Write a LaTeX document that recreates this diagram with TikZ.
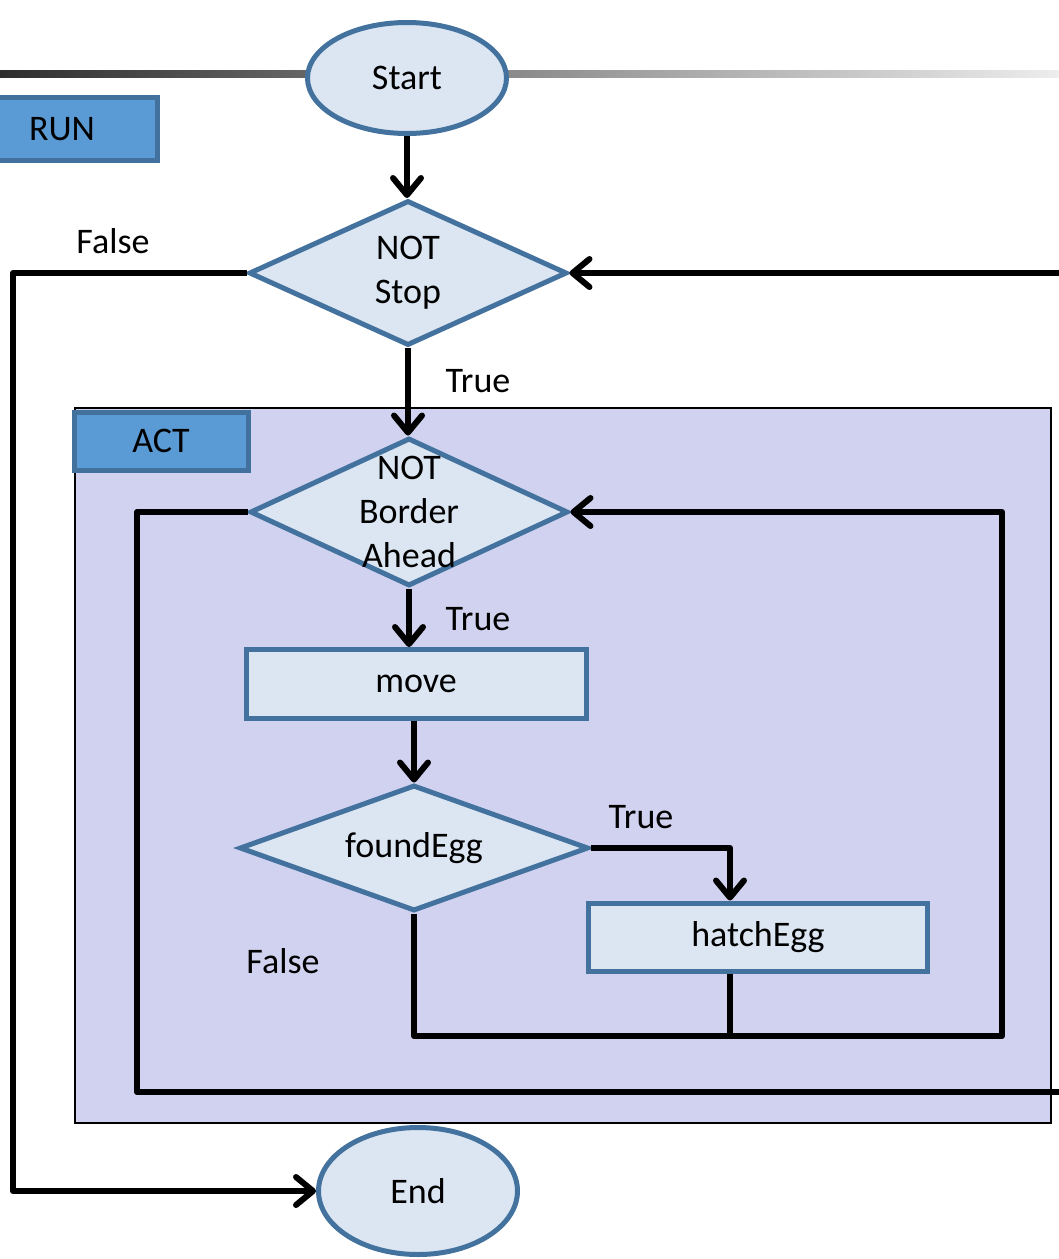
\documentclass[tikz,border=0pt]{standalone}
\usepackage{fontspec}
\setmainfont{Carlito}
\usetikzlibrary{shapes.geometric,arrows.meta}
\definecolor{shapefill}{HTML}{DCE6F2}
\definecolor{shapeline}{HTML}{43729E}
\definecolor{tagfill}{HTML}{5B9BD5}
\definecolor{tagline}{HTML}{41719C}
\definecolor{actfill}{HTML}{D0D2EF}
\begin{document}
\begin{tikzpicture}[x=1pt,y=-1pt,
  every node/.style={font=\fontsize{36}{44}\selectfont, text=black},
  terminal/.style={ellipse, draw=shapeline, fill=shapefill, line width=5pt, inner sep=0pt},
  decision/.style={diamond, draw=shapeline, fill=shapefill, line width=5pt, inner sep=0pt},
  process/.style={rectangle, draw=shapeline, fill=shapefill, line width=5pt, inner sep=0pt},
  tag/.style={rectangle, draw=tagline, fill=tagfill, line width=5pt, inner sep=0pt},
  conn/.style={draw=black, line width=6pt, line join=round},
  arr/.style={conn, -{Straight Barb[length=17pt,width=28pt,line cap=round,line join=round]}},
  lbl/.style={inner sep=0pt}
]
\useasboundingbox (0,0) rectangle (1059,1259);
\clip (0,0) rectangle (1059,1259);

% header rule with fading grey
\shade[left color=black!82, right color=black!7] (0,70) rectangle (1059,77);

% ACT region
\node[draw=black, line width=1.5pt, fill=actfill, minimum width=976pt, minimum height=715pt,
      anchor=north west, inner sep=0pt] (act) at (74,407) {};

% tags
\node[tag, minimum width=190pt, minimum height=63pt] (run) at (62,129) {RUN};
\node[tag, minimum width=174pt, minimum height=58pt] (acttag) at (161,441) {ACT};

% flow nodes
\node[terminal, minimum width=199pt, minimum height=111pt] (start) at (407,78) {Start};
\node[decision, minimum width=318pt, minimum height=145pt] (d1) at (408,273) {};
\node[align=center] at (d1) {NOT\\Stop};
\node[decision, minimum width=318pt, minimum height=148pt] (d2) at (409,512) {};
\node[align=center] at (409,512) {NOT\\Border\\Ahead};
\node[process, minimum width=340pt, minimum height=69pt] (move) at (416,684) {move};
\node[decision, minimum width=349pt, minimum height=126pt] (d3) at (414,848) {};
\node at (d3) {foundEgg};
\node[process, minimum width=339pt, minimum height=68pt] (hatch) at (758,937) {hatchEgg};
\node[terminal, minimum width=199pt, minimum height=127pt] (endn) at (418,1191) {End};

% routing points
\coordinate (outerL) at (13,700);
\coordinate (innerL) at (137,800);
\coordinate (outerR) at (1075,700);
\coordinate (innerR) at (1002,800);
\coordinate (join) at (416,1036);
\coordinate (hatchIn) at (730,900);

% connectors
\draw[arr] (start.south) -- (start.south |- d1.north);
\draw[arr] (d1.west) -| (outerL) |- (endn.west);
\draw[arr] (d1.south) -- (d1.south |- d2.north);
\draw[arr] (d2.west) -| (innerL) |- (outerR |- 0,1092) -- (outerR |- d1.east) -- (d1.east);
\draw[arr] (d2.south) -- (d2.south |- move.north);
\draw[arr] (move.south -| d3.north) -- (d3.north);
\draw[arr] (d3.east) -| (hatchIn |- hatch.north);
\draw[conn] (hatchIn |- hatch.south) -- (hatchIn |- join);
\draw[arr] (d3.south) -- (d3.south |- join) -| (innerR) |- (d2.east);

% branch labels
\node[lbl] at (113,241) {False};
\node[lbl] at (478,381) {True};
\node[lbl] at (478,619) {True};
\node[lbl] at (641,817) {True};
\node[lbl] at (283,961) {False};
\end{tikzpicture}
\end{document}
